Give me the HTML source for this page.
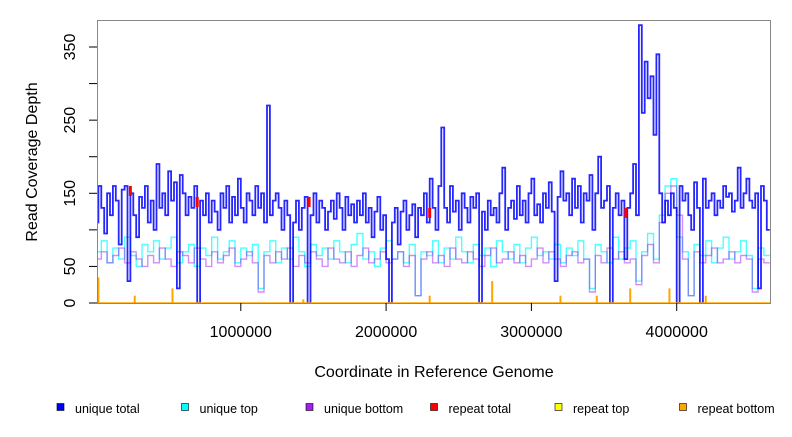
<!DOCTYPE html>
<html><head><meta charset="utf-8"><style>
body{margin:0;background:#fff;font-family:"Liberation Sans",sans-serif}
</style></head><body>
<svg id="chart" width="792" height="432" viewBox="0 0 792 432" xmlns="http://www.w3.org/2000/svg" font-family="Liberation Sans, sans-serif">
<g id="plot"></g>
<rect x="97.5" y="20.5" width="673" height="283" fill="none" stroke="#888" stroke-width="1"/>
<g id="axes"></g>
<text x="0" y="0" transform="translate(37,162) rotate(-90)" text-anchor="middle" font-size="16">Read Coverage Depth</text>
<text x="434" y="377" text-anchor="middle" font-size="16">Coordinate in Reference Genome</text>
<g id="legend"></g>
</svg>
<script>
const uniqueTotal=[110,160,130,95,150,120,160,140,80,155,
160,30,150,120,90,145,130,160,110,140,
100,190,130,150,120,180,140,165,20,175,
150,120,145,130,160,0,140,120,150,110,
140,125,100,150,130,160,110,145,120,170,
130,110,150,140,120,160,130,150,110,270,
120,140,150,130,100,140,120,0,110,140,
100,130,145,0,120,150,110,140,130,100,
125,140,115,150,130,100,145,120,135,110,
140,120,150,110,130,90,125,145,100,120,
60,0,110,130,80,125,140,100,120,135,
90,130,120,150,110,170,130,100,160,240,
130,110,160,125,140,100,150,130,110,145,
130,150,0,125,100,140,120,130,110,150,
185,100,130,140,115,160,120,140,110,150,
170,120,135,110,150,130,165,125,30,145,
180,140,150,120,170,130,160,110,150,140,
175,100,150,200,130,140,160,0,130,150,
120,140,60,130,150,190,120,380,260,330,
280,310,230,340,150,110,140,120,150,130,
0,160,140,150,120,100,165,130,0,170,
130,140,150,120,140,130,160,145,150,125,
140,185,130,150,170,140,130,150,20,160,140,100];
const uniqueTop=[70,85,55,75,60,90,65,50,80,70,
85,60,75,90,55,70,80,50,75,65,
90,60,70,85,55,75,65,80,20,70,
85,55,75,60,90,70,50,80,65,75,
60,85,70,55,80,95,60,70,50,75,
85,60,70,55,80,10,70,65,85,55,
75,60,90,70,55,80,65,75,50,85,
70,60,80,55,75,90,65,70,60,80,
55,75,65,85,60,20,80,70,55,90,
60,75,85,30,70,95,60,120,160,170,
90,70,10,80,65,85,55,75,90,60,
70,85,65,20,75,65];
const uniqueBottom=[60,70,55,65,75,55,70,60,50,65,
55,75,60,50,70,65,55,75,60,50,
70,55,65,75,50,60,70,55,15,65,
55,70,60,75,50,65,55,70,60,50,
75,60,55,70,50,65,75,55,60,70,
55,60,70,50,65,10,60,70,55,65,
50,75,60,55,70,60,50,65,75,55,
60,70,55,65,50,60,75,55,70,60,
50,65,70,55,60,15,65,55,75,60,
70,55,60,25,65,80,55,110,150,160,
120,60,10,70,55,65,75,55,60,70,
55,65,60,15,60,55];
const repeatTotalPos=[240000,700000,1470000,2300000,3650000];
const repeatTotalVal=[160,145,145,130,130];
const repeatBottomPos=[20000,270000,530000,1430000,2300000,2730000,3200000,3450000,3680000,3950000,4200000];
const repeatBottomVal=[35,10,20,5,10,30,10,10,20,20,10];
const yTicks=[0,50,100,150,200,250,300,350];
const yLabels=["0","50","","150","","250","","350"];
const xTicks=[1000000,2000000,3000000,4000000];
const legendNames=["unique total","unique top","unique bottom","repeat total","repeat top","repeat bottom"];
const legendColors=["#0000ff","#00ffff","#a020f0","#ff0000","#ffff00","#ffa500"];
const genomeLen=4640000;
const NS="http://www.w3.org/2000/svg";
const X=v=>95.5+v*145.3e-6;
const Y=v=>303-v*0.7314;
const plot=document.getElementById('plot'),axes=document.getElementById('axes'),leg=document.getElementById('legend');
function mk(t,a,p){const e=document.createElementNS(NS,t);for(const k in a)e.setAttribute(k,a[k]);p.appendChild(e);return e;}
function step(arr,color,w,op,name){
  const dx=genomeLen/arr.length;let d='';
  arr.forEach((v,i)=>{const x0=Math.max(98,X(i*dx)),x1=Math.min(770,X((i+1)*dx));d+=(i?'L':'M')+x0.toFixed(1)+' '+Y(v).toFixed(1)+'L'+x1.toFixed(1)+' '+Y(v).toFixed(1);});
  const p=mk('path',{d:d,fill:'none',stroke:color,'stroke-width':w,'stroke-opacity':op},plot);
  
  
}
step(uniqueTop,'#00ffff',1.4,0.7,'unique-top-line');
step(uniqueBottom,'#a020f0',1.4,0.5,'unique-bottom-line');
step(uniqueTotal,'#0000ff',1.8,0.85,'unique-total-line');
repeatTotalPos.forEach((p,i)=>{const r=mk('rect',{x:X(p)-1.5,y:Y(repeatTotalVal[i]),width:3,height:10,fill:'#ff0000'},plot);
  
  });
repeatBottomPos.forEach((p,i)=>{const r=mk('rect',{x:X(p)-1,y:Y(repeatBottomVal[i]),width:2,height:303-Y(repeatBottomVal[i]),fill:'#ffa500'},plot);
  
  });
const base=mk('line',{x1:97.5,x2:770,y1:303,y2:303,stroke:'#ffa500','stroke-width':1.5},plot);


yTicks.forEach((t,i)=>{const y=Y(t);
  const l=mk('line',{x1:89,x2:97,y1:y,y2:y,stroke:'#000'},axes);
  
  
  if(yLabels[i]){const tx=mk('text',{transform:`translate(75,${y}) rotate(-90)`,'text-anchor':'middle','font-size':16},axes);tx.textContent=yLabels[i];
  
  }
});
xTicks.forEach(t=>{const x=X(t);
  const l=mk('line',{x1:x,x2:x,y1:303,y2:311,stroke:'#000'},axes);
  
  
  const tx=mk('text',{x:x,y:337,'text-anchor':'middle','font-size':16},axes);tx.textContent=t;
  
  
});
legendNames.forEach((n,i)=>{const x=57+i*124.5;
  const g=mk('g',{},leg);
  
  
  mk('rect',{x:x,y:403.5,width:7,height:7,fill:legendColors[i],stroke:'#000','stroke-width':0.6},g);
  const t=mk('text',{x:x+18,y:413,'font-size':12.5},g);t.textContent=n;
});
</script>
</body></html>
